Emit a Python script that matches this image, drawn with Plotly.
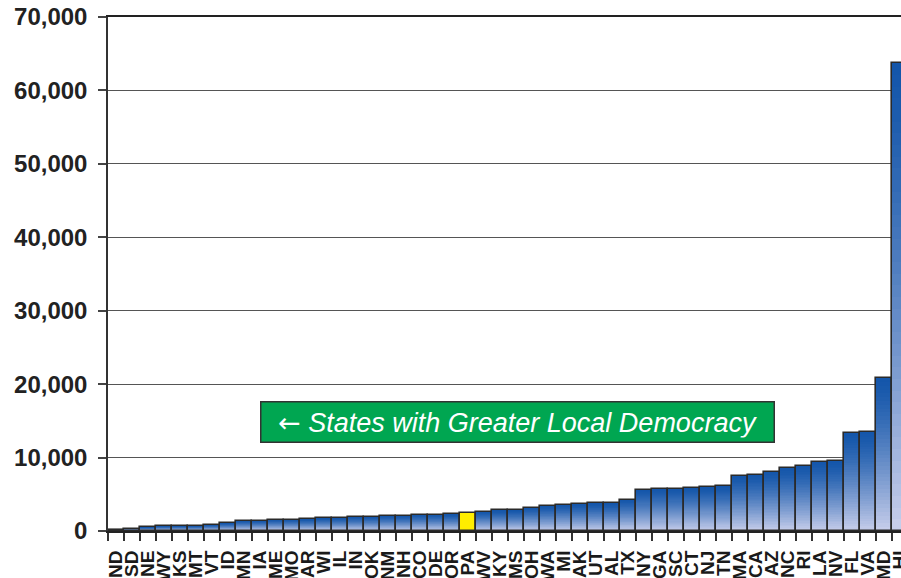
import plotly.graph_objects as go

# State abbreviations, ordered from smallest to largest value
states = ["ND", "SD", "NE", "WY", "KS", "MT", "VT", "ID", "MN", "IA",
          "ME", "MO", "AR", "WI", "IL", "IN", "OK", "NM", "NH", "CO",
          "DE", "OR", "PA", "WV", "KY", "MS", "OH", "WA", "MI", "AK",
          "UT", "AL", "TX", "NY", "GA", "SC", "CT", "NJ", "TN", "MA",
          "CA", "AZ", "NC", "RI", "LA", "NV", "FL", "VA", "MD", "HI"]

values = [150, 330, 480, 650, 660, 680, 830, 1060, 1370, 1380,
          1550, 1560, 1570, 1740, 1760, 1910, 1920, 2050, 2060, 2230,
          2240, 2250, 2460, 2620, 2800, 2820, 3200, 3370, 3600, 3610,
          3750, 3760, 4290, 5550, 5730, 5740, 5920, 5930, 6100, 7460,
          7690, 8050, 8550, 8920, 9460, 9470, 13320, 13500, 20830, 63720]

highlight = "PA"
y_ticks = [0, 10000, 20000, 30000, 40000, 50000, 60000, 70000]

TOP = (20, 86, 170)       # saturated blue at the top of each bar
BOTTOM = (198, 205, 234)  # pale blue at the base
STEPS = 40
FONT = "Liberation Sans, Arial, sans-serif"

fig = go.Figure()

# Vertical gradient: stacked overlays, each shorter and lighter than the last
for k in range(STEPS):
    t = (k / (STEPS - 1)) ** 1.3
    r, g, b = (round(TOP[i] + (BOTTOM[i] - TOP[i]) * t) for i in range(3))
    frac = (STEPS - k) / STEPS
    ys = [0 if s == highlight else v * frac for s, v in zip(states, values)]
    fig.add_trace(go.Bar(
        x=states, y=ys,
        marker=dict(color=f"rgb({r},{g},{b})", line=dict(width=0)),
        hoverinfo="skip", showlegend=False,
    ))

# Highlighted state in solid yellow
fig.add_trace(go.Bar(
    x=states,
    y=[v if s == highlight else 0 for s, v in zip(states, values)],
    marker=dict(color="#ffee00", line=dict(width=0)),
    showlegend=False,
))

# Dark outline around every bar
fig.add_trace(go.Bar(
    x=states, y=values,
    marker=dict(color="rgba(0,0,0,0)", line=dict(color="#2a2a2a", width=1.6)),
    showlegend=False,
))

fig.add_annotation(
    x=0.1917, y=0.213, xref="paper", yref="paper",
    xanchor="left", yanchor="middle",
    text=("<span style=\"font-family:'DejaVu Sans'\">\u2190</span>"
          " <i>States with Greater Local Democracy</i>"),
    showarrow=False,
    font=dict(family=FONT, size=27, color="white"),
    bgcolor="#00a651", bordercolor="#333333", borderwidth=1.5, borderpad=4,
    width=504, align="center",
)

fig.update_layout(
    width=901, height=578,
    margin=dict(l=108, r=0, t=17, b=47, autoexpand=False),
    paper_bgcolor="white", plot_bgcolor="white",
    barmode="overlay", bargap=0,
    showlegend=False,
    font=dict(family=FONT),
)

fig.update_xaxes(
    type="category",
    autorange=False,
    range=[-0.5, 49.06],
    automargin=False,
    tickmode="array", tickvals=states, ticktext=states,
    tickangle=-90,
    tickson="boundaries",
    ticks="outside", ticklen=8, tickwidth=1.5, tickcolor="#333333",
    ticklabelstandoff=10,
    tickfont=dict(size=19, color="#1a1a1a", family=FONT, weight="bold"),
    showline=True, linecolor="#222222", linewidth=2, mirror=True,
    showgrid=False,
)

fig.update_yaxes(
    range=[0, 70000],
    automargin=False,
    tickvals=y_ticks,
    tickformat=",d",
    ticks="outside", ticklen=8, tickwidth=1.5, tickcolor="#444444",
    ticklabelstandoff=6,
    tickfont=dict(size=24, color="#222222", family=FONT, weight="bold"),
    showline=True, linecolor="#333333", linewidth=1.5,
    showgrid=True, gridcolor="#555555", gridwidth=1.4,
    zeroline=False,
)

fig.write_html("out.html")
